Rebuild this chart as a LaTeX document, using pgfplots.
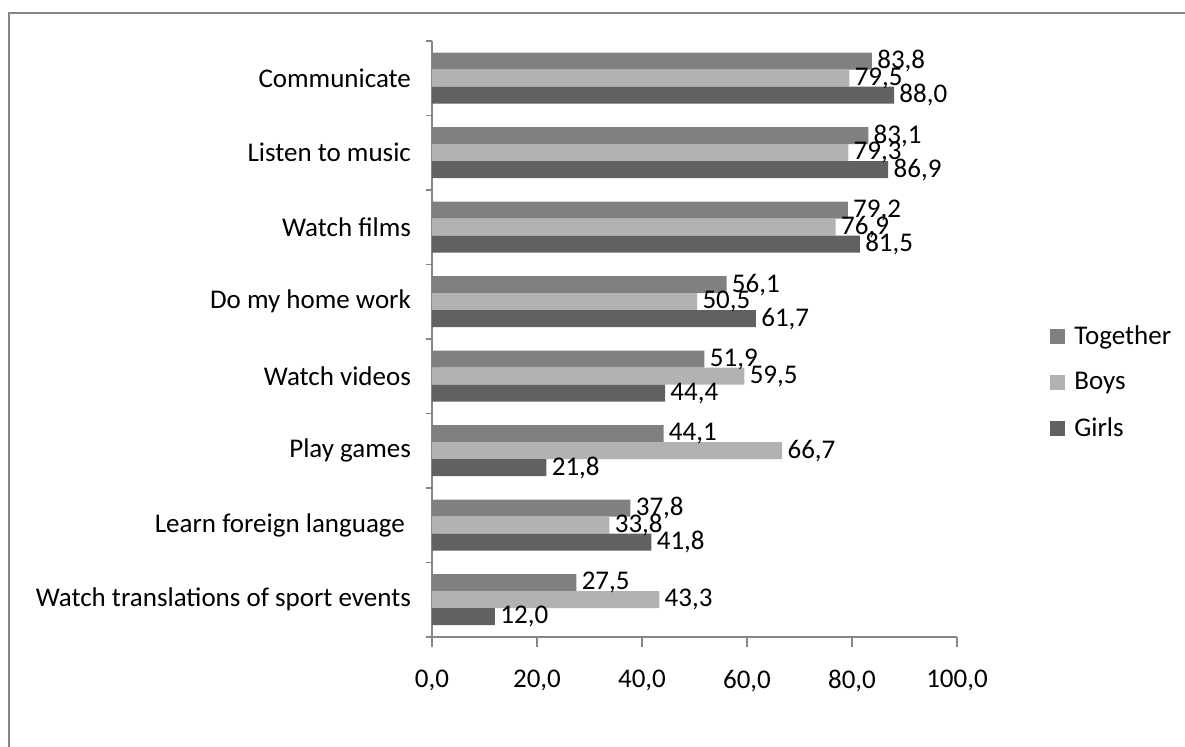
\documentclass[border=0pt]{standalone}
\usepackage{pgfplots}
\pgfplotsset{compat=1.18}
\usepackage{fontspec}
\setmainfont{Carlito}
\definecolor{cTog}{HTML}{808080}
\definecolor{cBoy}{HTML}{B2B2B2}
\definecolor{cGirl}{HTML}{616161}
\definecolor{axgrey}{HTML}{868686}
\newcommand{\cf}{\fontsize{13.5}{15.5}\selectfont}
\pgfplotsset{sqleg/.style={legend image code/.code={\fill[##1] (0pt,-3.75pt) rectangle (7.5pt,3.75pt);}}}
\begin{document}
\begin{tikzpicture}
\useasboundingbox (0,0) rectangle (592.5pt,373.5pt);
\draw[axgrey, line width=0.6pt] (4.5pt,0) -- (4.5pt,367pt) -- (592.5pt,367pt);
\begin{axis}[
  at={(216pt,55pt)}, anchor=south west,
  scale only axis, width=262.5pt, height=298pt,
  xbar, bar width=8.5pt,
  xmin=0, xmax=100, ymin=-0.5, ymax=7.5,
  axis x line*=bottom, axis y line*=left,
  axis line style={axgrey, line width=0.6pt},
  xtick={0,20,...,100},
  ytick={0,...,7},
  yticklabels={Watch translations of sport events, {Learn foreign language\hspace*{3pt}}, Play games, Watch videos, Do my home work, Watch films, Listen to music, Communicate},
  minor ytick={-0.5,0.5,...,7.5},
  tick align=outside,
  major y tick style={draw=none},
  minor y tick style={axgrey, line width=0.6pt},
  major x tick style={axgrey, line width=0.6pt},
  minor tick length=3pt, major tick length=5pt,
  /pgf/number format/use comma,
  /pgf/number format/fixed,
  /pgf/number format/fixed zerofill,
  /pgf/number format/precision=1,
  /pgf/number format/assume math mode=true,
  tick label style={font=\cf, black},
  xticklabel style={yshift=-8pt},
  yticklabel style={xshift=-2pt},
  nodes near coords,
  every node near coord/.append style={font=\cf, black, inner sep=2.5pt},
  legend style={at={(axis description cs:1.177,0.427)}, anchor=west, draw=none, fill=none,
    font=\cf, row sep=8.5pt, inner sep=0pt, cells={anchor=west},
    /tikz/every odd column/.append style={column sep=2.5pt}},
]
\addplot[fill=cTog, draw=none, bar shift=8.5pt, sqleg] coordinates {(83.8,7) (83.1,6) (79.2,5) (56.1,4) (51.9,3) (44.1,2) (37.8,1) (27.5,0)};
\addplot[fill=cBoy, draw=none, bar shift=0pt, sqleg] coordinates {(79.5,7) (79.3,6) (76.9,5) (50.5,4) (59.5,3) (66.7,2) (33.8,1) (43.3,0)};
\addplot[fill=cGirl, draw=none, bar shift=-8.5pt, sqleg] coordinates {(88.0,7) (86.9,6) (81.5,5) (61.7,4) (44.4,3) (21.8,2) (41.8,1) (12.0,0)};
\legend{Together, Boys, Girls}
\end{axis}
\end{tikzpicture}
\end{document}
